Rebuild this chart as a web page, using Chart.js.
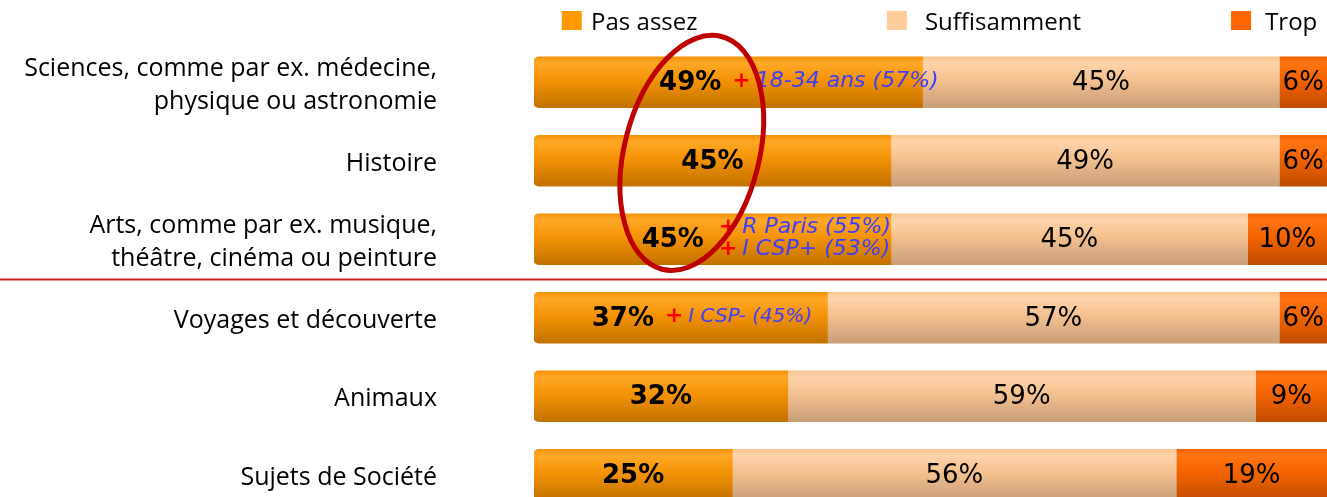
<!DOCTYPE html>
<html><head><meta charset="utf-8">
<script src="https://cdn.jsdelivr.net/npm/chart.js@4"></script>
<style>
html,body{margin:0;padding:0;overflow:hidden;background:#fff;width:1327px;height:497px}
#wrap{width:1327px;height:514px}
</style></head>
<body><div id="wrap"><canvas id="c" width="1327" height="514"></canvas></div>
<script>
// ---- data ----
const categories = [
  ["Sciences, comme par ex. médecine,", "physique ou astronomie"],
  "Histoire",
  ["Arts, comme par ex. musique,", "théâtre, cinéma ou peinture"],
  "Voyages et découverte",
  "Animaux",
  "Sujets de Société"
];
const seriesNames = ["Pas assez", "Suffisamment", "Trop"];
const pasAssez = [49, 45, 45, 37, 32, 25];
const suffisamment = [45, 49, 45, 57, 59, 56];
const trop = [6, 6, 10, 6, 9, 19];
const notes = [
  { row: 0, lines: ["18-34 ans (57%)"] },
  { row: 2, lines: ["R Paris (55%)", "I CSP+ (53%)"] },
  { row: 3, lines: ["I CSP- (45%)"] }
];

// ---- styles / layout (not data) ----
const noteStyle = {
  0: { labelAt: 19.7, size: 22, gap: 11 },
  2: { labelAt: 17.5, size: 22, gap: 15 },
  3: { labelAt: 11.2, size: 20, gap: 11 }
};
const legendPos = [ { box: 3.5, text: 7.2 }, { box: 44.5, text: 49.3 }, { box: 87.9, text: 92.2 } ];
const colors = [
  { legend: "#ff9900", stops: ["#f39108", "#ffa828", "#f59306", "#c27100"] },
  { legend: "#ffcc99", stops: ["#f7c692", "#ffd4aa", "#f4c190", "#c89e78"] },
  { legend: "#ff6600", stops: ["#f26200", "#ff7514", "#f46400", "#bf4c00"] }
];
const BAR = 51;

function gradient(ci) {
  return (ctx) => {
    const st = colors[ci].stops;
    if (ctx.type !== 'data') return st[2];
    const ys = ctx.chart.scales.y;
    if (!ys) return st[2];
    const c = ys.getPixelForValue(ctx.dataIndex);
    if (!isFinite(c)) return st[2];
    const g = ctx.chart.ctx.createLinearGradient(0, c - BAR / 2, 0, c + BAR / 2);
    g.addColorStop(0, st[0]);
    g.addColorStop(0.12, st[1]);
    g.addColorStop(0.45, st[2]);
    g.addColorStop(1, st[3]);
    return g;
  };
}

const valuesBySeries = [pasAssez, suffisamment, trop];

const labelPlugin = {
  id: 'barLabels',
  afterDatasetsDraw(chart) {
    const ctx = chart.ctx;
    const xs = chart.scales.x;
    ctx.save();
    ctx.fillStyle = '#000';
    ctx.textBaseline = 'middle';
    chart.data.datasets.forEach((ds, di) => {
      const meta = chart.getDatasetMeta(di);
      meta.data.forEach((el, i) => {
        const v = ds.data[i];
        let cx = (el.x + el.base) / 2;
        if (di === 0 && noteStyle[i]) cx = xs.getPixelForValue(noteStyle[i].labelAt);
        ctx.font = (di === 0 ? 'bold ' : '') + '26px "DejaVu Sans"';
        ctx.textAlign = 'center';
        const txt = v + '%';
        ctx.fillText(txt, cx, el.y + 1);
        if (di === 0) {
          const n = notes.find(nn => nn.row === i);
          if (n) {
            const w = ctx.measureText(txt).width;
            const st = noteStyle[i];
            const startX = cx + w / 2 + st.gap;
            const lh = 22;
            const y0 = el.y - 1 - (n.lines.length - 1) * lh / 2;
            n.lines.forEach((line, li) => {
              const y = y0 + li * lh;
              ctx.textAlign = 'left';
              ctx.font = 'bold 22px "DejaVu Sans"';
              ctx.fillStyle = '#ff0000';
              ctx.fillText('+', startX, y);
              const pw = ctx.measureText('+').width;
              ctx.font = 'italic ' + st.size + 'px "DejaVu Sans"';
              ctx.fillStyle = '#3d3dff';
              ctx.fillText(line, startX + pw + 5, y);
            });
            ctx.fillStyle = '#000';
          }
        }
      });
    });
    ctx.restore();
  }
};

const decoPlugin = {
  id: 'deco',
  afterDraw(chart) {
    const ctx = chart.ctx;
    const xs = chart.scales.x, ys = chart.scales.y;
    ctx.save();
    const sy = ys.getPixelForValue(2.5) + 1;
    ctx.strokeStyle = '#cc2222';
    ctx.lineWidth = 2;
    ctx.beginPath();
    ctx.moveTo(0, sy);
    ctx.lineTo(chart.width, sy);
    ctx.stroke();
    const ex = xs.getPixelForValue(19.9);
    const ey = ys.getPixelForValue(0.9);
    const rx = xs.getPixelForValue(8.5) - xs.getPixelForValue(0);
    const ry = (ys.getPixelForValue(1) - ys.getPixelForValue(0)) * 1.53;
    ctx.strokeStyle = '#bf0000';
    ctx.lineWidth = 5;
    ctx.beginPath();
    ctx.ellipse(ex, ey, rx, ry, 0.25, 0, Math.PI * 2);
    ctx.stroke();
    ctx.textBaseline = 'alphabetic';
    ctx.textAlign = 'left';
    ctx.font = '24px "Open Sans"';
    seriesNames.forEach((name, i) => {
      const bx = xs.getPixelForValue(legendPos[i].box);
      const tx = xs.getPixelForValue(legendPos[i].text);
      ctx.fillStyle = colors[i].legend;
      ctx.fillRect(bx, 11, 20, 19);
      ctx.fillStyle = '#000';
      ctx.fillText(name, tx, 30);
    });
    ctx.restore();
  }
};

new Chart(document.getElementById('c'), {
  type: 'bar',
  data: {
    labels: categories,
    datasets: seriesNames.map((name, i) => ({
      label: name,
      data: valuesBySeries[i],
      backgroundColor: gradient(i),
      borderWidth: 0,
      barThickness: BAR,
      borderSkipped: i === 0 ? false : 'start',
      borderRadius: i === 0 ? { topLeft: 5, bottomLeft: 5, topRight: 0, bottomRight: 0 } : 0
    }))
  },
  options: {
    indexAxis: 'y',
    responsive: false,
    animation: false,
    devicePixelRatio: 1,
    layout: { padding: { top: 43, right: 0, bottom: 0, left: 0 } },
    plugins: { legend: { display: false }, tooltip: { enabled: false } },
    scales: {
      x: { stacked: true, min: 0, max: 100, display: false },
      y: {
        stacked: true,
        grid: { display: false, drawTicks: false },
        border: { display: false },
        ticks: { padding: 97, labelOffset: 3, color: '#000', font: { family: 'Open Sans', size: 25, lineHeight: 1.3 } },
        afterFit(scale) { scale.width = 534; scale.paddingTop = 0; scale.paddingBottom = 0; }
      }
    }
  },
  plugins: [labelPlugin, decoPlugin]
});
</script>
</body></html>
